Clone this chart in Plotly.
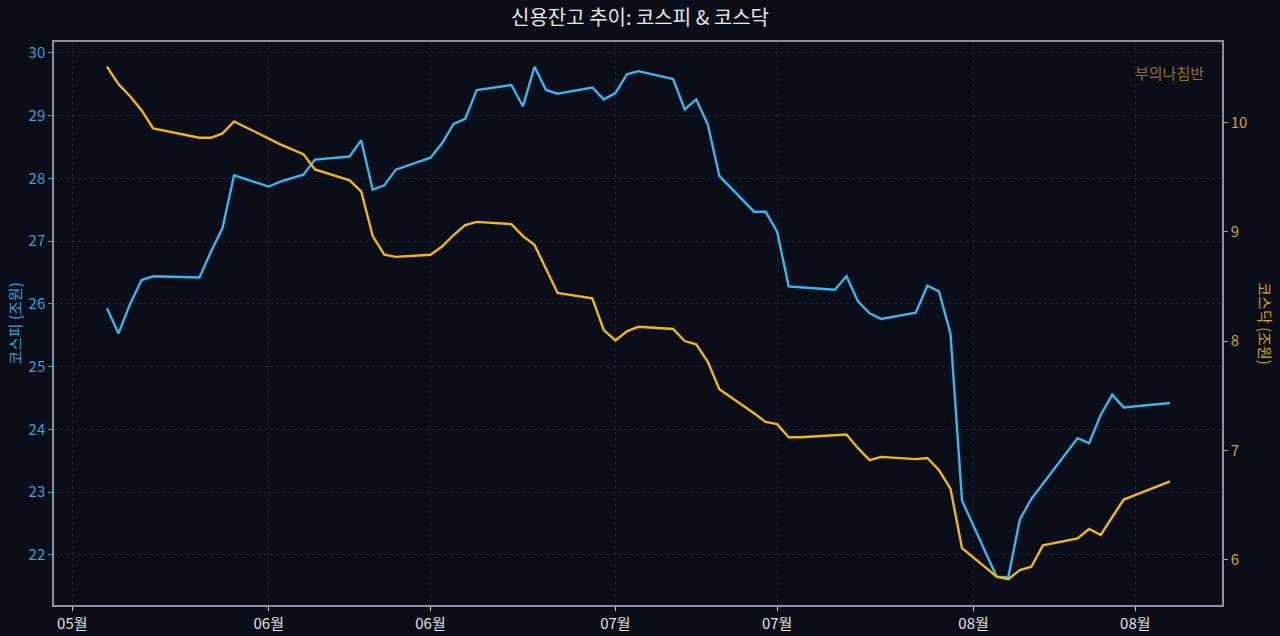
import plotly.graph_objects as go

# 영업일 (2026)
dates = [
    "2026-05-18", "2026-05-19", "2026-05-20", "2026-05-21", "2026-05-22",
    "2026-05-26", "2026-05-27", "2026-05-28", "2026-05-29",
    "2026-06-01", "2026-06-02", "2026-06-04", "2026-06-05",
    "2026-06-08", "2026-06-09", "2026-06-10", "2026-06-11", "2026-06-12",
    "2026-06-15", "2026-06-16", "2026-06-17", "2026-06-18", "2026-06-19",
    "2026-06-22", "2026-06-23", "2026-06-24", "2026-06-25", "2026-06-26",
    "2026-06-29", "2026-06-30",
    "2026-07-01", "2026-07-02", "2026-07-03",
    "2026-07-06", "2026-07-07", "2026-07-08", "2026-07-09", "2026-07-10",
    "2026-07-13", "2026-07-14", "2026-07-15", "2026-07-16", "2026-07-17",
    "2026-07-20", "2026-07-21", "2026-07-22", "2026-07-23", "2026-07-24",
    "2026-07-27", "2026-07-28", "2026-07-29", "2026-07-30", "2026-07-31",
    "2026-08-03", "2026-08-04", "2026-08-05", "2026-08-06", "2026-08-07",
    "2026-08-10", "2026-08-11", "2026-08-12", "2026-08-13", "2026-08-14",
    "2026-08-18",
]

# 코스피 신용잔고 (조원)
kospi = [
    25.93, 25.53, 26.00, 26.38, 26.44,
    26.42, 26.83, 27.21, 28.05,
    27.87, 27.95, 28.06, 28.30,
    28.35, 28.61, 27.82, 27.89, 28.14,
    28.33, 28.56, 28.87, 28.95, 29.41,
    29.49, 29.15, 29.78, 29.41, 29.35,
    29.45, 29.26,
    29.36, 29.66, 29.71,
    29.585, 29.10, 29.26, 28.86, 28.04,
    27.47, 27.47, 27.15, 26.28, 26.265,
    26.225, 26.44, 26.04, 25.85, 25.76,
    25.86, 26.29, 26.20, 25.53, 22.865,
    21.65, 21.64, 22.56, 22.89, 23.13,
    23.86, 23.78, 24.23, 24.55, 24.35,
    24.42,
]

# 코스닥 신용잔고 (조원)
kosdaq = [
    10.51, 10.35, 10.24, 10.11, 9.945,
    9.86, 9.86, 9.90, 10.01,
    9.85, 9.80, 9.71, 9.57,
    9.47, 9.37, 8.96, 8.79, 8.77,
    8.79, 8.865, 8.97, 9.06, 9.09,
    9.07, 8.96, 8.88, 8.66, 8.44,
    8.39, 8.10,
    8.005, 8.09, 8.13,
    8.11, 8.00, 7.97, 7.81, 7.56,
    7.34, 7.26, 7.24, 7.12, 7.12,
    7.135, 7.145, 7.02, 6.91, 6.94,
    6.92, 6.93, 6.82, 6.65, 6.105,
    5.845, 5.82, 5.905, 5.935, 6.13,
    6.195, 6.28, 6.225, 6.39, 6.55,
    6.715,
]

tick_dates = ["2026-05-15", "2026-06-01", "2026-06-15", "2026-07-01",
              "2026-07-15", "2026-08-01", "2026-08-15"]
tick_text = ["05월", "06월", "06월", "07월", "07월", "08월", "08월"]

BG = "#0a0e19"
BLUE = "#3cb5ec"
GOLD = "#f3b619"
BLUE_TXT = "#3d9ed6"
GOLD_TXT = "#d8a420"
SPINE = "#8a8fa3"
GRID = "#1d2232"
FONT = "Noto Sans CJK KR"

fig = go.Figure()
fig.add_trace(go.Scatter(x=dates, y=kospi, mode="lines", name="코스피",
                         line=dict(color=BLUE, width=2.4)))
fig.add_trace(go.Scatter(x=dates, y=kosdaq, mode="lines", name="코스닥",
                         line=dict(color=GOLD, width=2.4), yaxis="y2"))

fig.update_layout(
    width=1280, height=636,
    paper_bgcolor=BG, plot_bgcolor=BG,
    margin=dict(l=54, r=58, t=42, b=31),
    showlegend=False,
    font=dict(family=FONT, size=14, color="#e6e6e6"),
    title=dict(text="신용잔고 추이: 코스피 & 코스닥", x=0.5, xanchor="center",
               y=0.972, yanchor="middle",
               font=dict(family=FONT, size=20, color="#e8e8e8")),
    xaxis=dict(
        type="date",
        range=["2026-05-13 10:00", "2026-08-22 12:00"],
        tickvals=tick_dates, ticktext=tick_text,
        ticks="outside", ticklen=4, tickcolor="#d0d0d0",
        tickfont=dict(color="#e0e0e0", size=15),
        showline=True, linecolor=SPINE, linewidth=1.5, mirror=True,
        showgrid=True, gridcolor=GRID, griddash="dot", gridwidth=1,
        zeroline=False, automargin=False,
    ),
    yaxis=dict(
        range=[21.2, 30.175],
        dtick=1,
        ticks="outside", ticklen=4, tickcolor=BLUE_TXT,
        tickfont=dict(color=BLUE_TXT, size=15),
        showline=True, linecolor=SPINE, linewidth=1.5,
        showgrid=True, gridcolor=GRID, griddash="dot", gridwidth=1,
        zeroline=False, automargin=False,
    ),
    yaxis2=dict(
        range=[5.585, 10.736],
        dtick=1,
        overlaying="y", side="right",
        ticks="outside", ticklen=4, tickcolor=GOLD_TXT,
        tickfont=dict(color=GOLD_TXT, size=15),
        showline=True, linecolor=SPINE, linewidth=1.5,
        showgrid=False, zeroline=False, automargin=False,
    ),
    annotations=[
        dict(text="코스피 (조원)", xref="paper", yref="paper", x=-0.034, y=0.5,
             textangle=-90, showarrow=False, xanchor="center", yanchor="middle",
             font=dict(family=FONT, size=15, color=BLUE_TXT)),
        dict(text="코스닥 (조원)", xref="paper", yref="paper", x=1.037, y=0.5,
             textangle=90, showarrow=False, xanchor="center", yanchor="middle",
             font=dict(family=FONT, size=15, color=GOLD_TXT)),
        dict(text="부의나침반", xref="paper", yref="paper", x=0.986, y=0.945,
             showarrow=False, xanchor="right", yanchor="middle",
             font=dict(family=FONT, size=15, color="#8f7020")),
    ],
)

fig.write_html(
    "out.html",
    config={"displayModeBar": False},
    post_script="document.body.style.margin='0';document.body.style.background='#0a0e19';",
)
